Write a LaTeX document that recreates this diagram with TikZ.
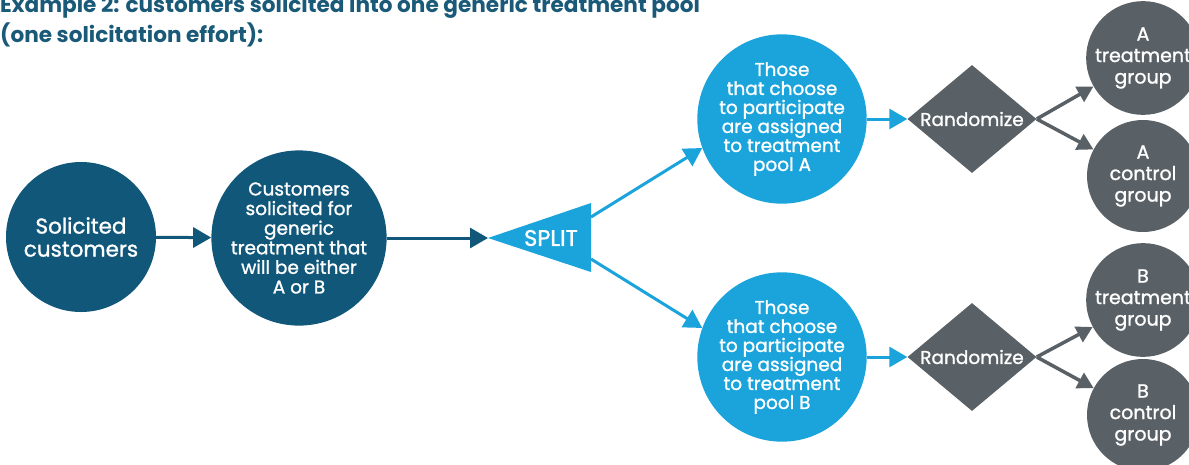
\documentclass[tikz,border=0pt]{standalone}
\usepackage{fontspec}
\setmainfont{Poppins}
\newfontfamily\medfont{Poppins}[FakeBold=1.2]
\usetikzlibrary{arrows.meta,shapes.geometric}
\definecolor{dteal}{HTML}{10577A}
\definecolor{lblue}{HTML}{1BA4DB}
\definecolor{gry}{HTML}{5A6166}
\definecolor{ttl}{HTML}{1A5A78}
\begin{document}
\begin{tikzpicture}[x=1pt,y=-1pt,
  dcirc/.style={circle, fill=dteal, text=white, inner sep=0pt, minimum size=#1, align=center},
  lcirc/.style={circle, fill=lblue, text=white, inner sep=0pt, minimum size=148pt, align=center,
     font=\medfont\fontsize{18.5}{19}\selectfont},
  gcirc/.style={circle, fill=gry, text=white, inner sep=0pt, minimum size=112pt, align=center,
     font=\medfont\fontsize{19}{21.5}\selectfont},
  dshape/.style={diamond, fill=gry, minimum width=129pt, minimum height=108pt, inner sep=0pt},
  wtext/.style={text=white, inner sep=0pt},
  darr/.style={draw=dteal, line width=3pt, -{Triangle[length=18pt,width=20pt]}},
  larr/.style={draw=lblue, line width=3pt, -{Triangle[length=18pt,width=20pt]}},
  garr/.style={draw=gry, line width=3.5pt, -{Triangle[length=16pt,width=17pt]}},
  ttext/.style={anchor=base west, inner sep=0pt, text=ttl, font=\fontsize{21.6}{24}\selectfont\bfseries}
]
\useasboundingbox (0,0) rectangle (1189,464);
% title
\node[ttext] (t1) at (0,12) {Example 2: customers solicited into one generic treatment pool};
\node[ttext] (t2) at (0,42) {(one solicitation effort):};
% left circles
\node[dcirc=150pt, font=\medfont\fontsize{21.5}{23}\selectfont] (c1) at (81,237) {Solicited\\customers};
\node[dcirc=146pt, font=\medfont\fontsize{18.5}{19.6}\selectfont] (c2) at (299,238) {Customers\\solicited for\\generic\\treatment that\\will be either\\A or B};
\draw[darr] (c1) -- (c2);
% split triangle
\fill[lblue] (488,238) -- (591,203) -- (591,272) -- cycle;
\coordinate (stip) at (488,238);
\coordinate (sA) at (591,217);
\coordinate (sB) at (591,259);
\node[wtext, font=\medfont\fontsize{22.5}{24}\selectfont] (split) at (551,238) {SPLIT};
\draw[darr] (c2) -- (stip);
% pools
\node[lcirc] (pA) at (782,119) {Those\\that choose\\to participate\\are assigned\\to treatment\\pool A};
\node[lcirc] (pB) at (782,357) {Those\\that choose\\to participate\\are assigned\\to treatment\\pool B};
\draw[larr] (sA) -- (pA.200);
\draw[larr] (sB) -- (pB.160);
% diamonds
\node[dshape] (dA) at (972,119) {};
\node[wtext, font=\medfont\fontsize{18.5}{20}\selectfont] (rA) at (972,119) {Randomize};
\node[dshape] (dB) at (972,357) {};
\node[wtext, font=\medfont\fontsize{18.5}{20}\selectfont] (rB) at (972,357) {Randomize};
\draw[larr] (pA) -- (dA);
\draw[larr] (pB) -- (dB);
% groups
\node[gcirc] (aT) at (1143,58) {A\\treatment\\group};
\node[gcirc] (aC) at (1143,176) {A\\control\\group};
\node[gcirc] (bT) at (1143,300) {B\\treatment\\group};
\node[gcirc] (bC) at (1143,415) {B\\control\\group};
\draw[garr] (dA.east) -- (aT);
\draw[garr] (dA.east) -- (aC);
\draw[garr] (dB.east) -- (bT);
\draw[garr] (dB.east) -- (bC);
\end{tikzpicture}
\end{document}
